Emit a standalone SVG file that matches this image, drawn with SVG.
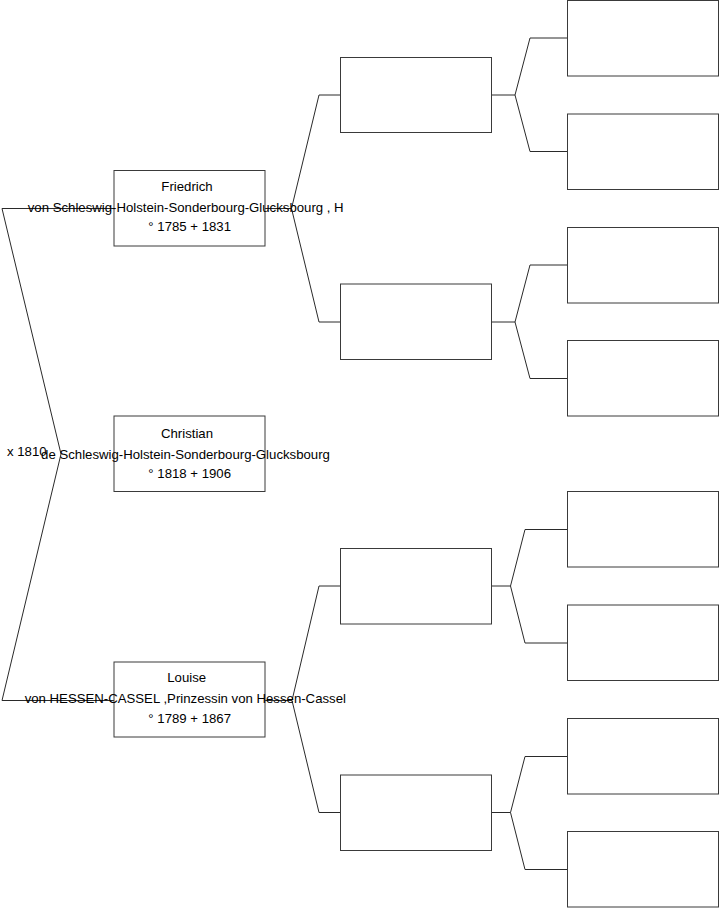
<svg xmlns="http://www.w3.org/2000/svg" width="719" height="908" viewBox="0 0 719 908">
<style>
.box{fill:#fff;stroke:#3a3a3a;stroke-width:1}
.ln{fill:none;stroke:#2a2a2a;stroke-width:1}
text{font-family:"Liberation Sans",Arial,sans-serif;font-size:13.2px;fill:#000}
.c{text-anchor:middle}
</style>
<rect width="719" height="908" fill="#fff"/>
<g id="connectors">
<polyline class="ln" points="114,208.5 2,208.5 61,454 2,700.5 114,700.5"/>
<polyline class="ln" points="265,208.5 291.5,208.5"/>
<polyline class="ln" points="340.5,95 319,95 291.5,208.5 319,322 340.5,322"/>
<polyline class="ln" points="265,700.5 292,700.5"/>
<polyline class="ln" points="340.5,586 319,586 292,700.5 319,812.5 340.5,812.5"/>
<polyline class="ln" points="491.5,95 515,95"/>
<polyline class="ln" points="567,38 530,38 515,95 530,151.5 567,151.5"/>
<polyline class="ln" points="491.5,322 515,322"/>
<polyline class="ln" points="567,265 530,265 515,322 530,378.5 567,378.5"/>
<polyline class="ln" points="491.5,586 510.5,586"/>
<polyline class="ln" points="567,529.5 525,529.5 510.5,586 525,643 567,643"/>
<polyline class="ln" points="491.5,812.5 510.5,812.5"/>
<polyline class="ln" points="567,756.5 525,756.5 510.5,812.5 525,869.5 567,869.5"/>
</g>
<g id="n-friedrich">
<rect class="box" x="114" y="170.5" width="151" height="75.5"/>
<text class="c" x="187" y="191">Friedrich</text>
<text class="c" x="185.7" y="211.5">von Schleswig-Holstein-Sonderbourg-Glucksbourg , H</text>
<text class="c" x="189.7" y="231">° 1785 + 1831</text>
</g>
<g id="n-christian">
<rect class="box" x="114" y="416" width="151" height="75.5"/>
<text class="c" x="187" y="437.5">Christian</text>
<text class="c" x="185.5" y="458.5">de Schleswig-Holstein-Sonderbourg-Glucksbourg</text>
<text class="c" x="189.7" y="478">° 1818 + 1906</text>
</g>
<g id="marriage">
<text x="7" y="456">x 1810</text>
</g>
<g id="n-louise">
<rect class="box" x="114" y="662" width="151" height="75"/>
<text class="c" x="186.7" y="682">Louise</text>
<text class="c" x="185.3" y="703">von HESSEN-CASSEL ,Prinzessin von Hessen-Cassel</text>
<text class="c" x="189.7" y="722.5">° 1789 + 1867</text>
</g>
<g id="n-f-father"><rect class="box" x="340.5" y="57.5" width="151" height="75"/></g>
<g id="n-f-mother"><rect class="box" x="340.5" y="284" width="151" height="75.5"/></g>
<g id="n-l-father"><rect class="box" x="340.5" y="548.5" width="151" height="75.5"/></g>
<g id="n-l-mother"><rect class="box" x="340.5" y="775" width="151" height="75.5"/></g>
<g id="n-g1"><rect class="box" x="567.5" y="0.5" width="151" height="75.5"/></g>
<g id="n-g2"><rect class="box" x="567.5" y="114" width="151" height="75.5"/></g>
<g id="n-g3"><rect class="box" x="567.5" y="227.5" width="151" height="75.5"/></g>
<g id="n-g4"><rect class="box" x="567.5" y="340.5" width="151" height="75.5"/></g>
<g id="n-g5"><rect class="box" x="567.5" y="491.5" width="151" height="75.5"/></g>
<g id="n-g6"><rect class="box" x="567.5" y="605" width="151" height="75.5"/></g>
<g id="n-g7"><rect class="box" x="567.5" y="718.5" width="151" height="75.5"/></g>
<g id="n-g8"><rect class="box" x="567.5" y="831.5" width="151" height="75.5"/></g>
</svg>
